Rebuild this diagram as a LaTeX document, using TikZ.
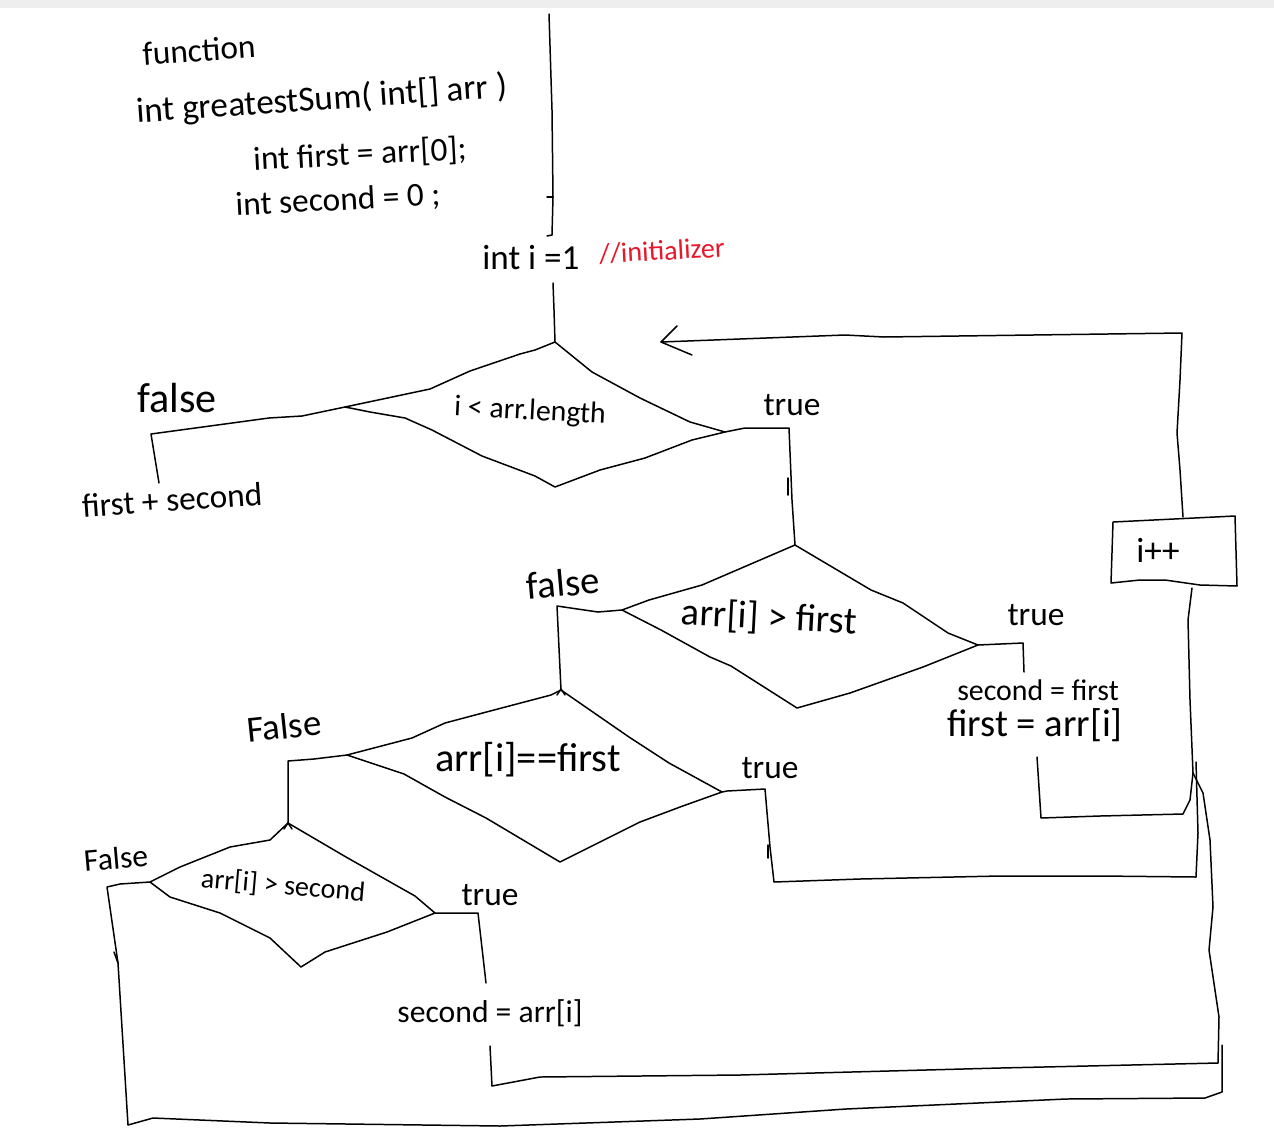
\documentclass[tikz,border=0pt]{standalone}
\usepackage{fontspec}
\newfontfamily\handfont{Carlito}
\definecolor{topbar}{RGB}{238,238,238}
\definecolor{note}{RGB}{232,24,44}
\begin{document}
\begin{tikzpicture}[x=0.02cm,y=-0.02cm,
  line width=0.85pt, line join=round, line cap=round,
  fs/.style={font={\handfont\fontsize{#1pt}{#1pt}\selectfont}, inner sep=0pt},
  pen/.style={draw=black, line width=0.85pt}]
\useasboundingbox (0,0) rectangle (1274,1136);
\fill[white] (0,0) rectangle (1274,1136);
\fill[topbar] (0,0) rectangle (1274,8);

% ---------- function header ----------
\node[fs=19, rotate=4] (fn) at (199,50) {function};
\node[fs=20, rotate=4] (sig) at (322,100) {int greatestSum( int[] arr )};
\node[fs=19, rotate=3] (v1) at (360,155) {int first = arr[0];};
\node[fs=19, rotate=3] (v2) at (338,201) {int second = 0 ;};

% ---------- entry line and initializer ----------
\coordinate (e0) at (549,14);
\coordinate (e1) at (552,235);
\draw[pen] (e0) -- (552,110) -- (553,197) -- (e1) -- (547,236);
\draw[pen] (547,197) -- (553,197);
\node[fs=20] (init) at (531,258) {int i =1};
\node[fs=16, text=note, rotate=3] (cmt) at (662,251) {//initializer};

% ---------- decision 1 ----------
\coordinate (d1t) at (555,342);
\coordinate (d1l) at (345,407);
\coordinate (d1r) at (725,432);
\coordinate (d1b) at (555,487);
\coordinate (c0) at (553,283);
\draw[pen] (c0) -- (554,310) -- (d1t);
\draw[pen] (d1t) -- (535,350) -- (520,354) -- (470,371) -- (430,389) -- (d1l)
  -- (370,412) -- (405,418) -- (432,430) -- (482,456) -- (535,476) -- (d1b)
  -- (600,470) -- (645,458) -- (692,440) -- (d1r)
  -- (690,422) -- (640,398) -- (592,372) -- cycle;
\node[fs=17, rotate=-3] (cond1) at (530,412) {i < arr.length};

% false: result
\node[fs=24] (fl1) at (177,398) {false};
\node[fs=19, rotate=4] (res) at (172,500) {first + second};
\coordinate (r0) at (159,483);
\draw[pen] (d1l) -- (302,416) -- (269,418) -- (151,434) -- (r0);

% true: to decision 2
\node[fs=19] (tr1) at (792,405) {true};
\coordinate (d2t) at (795,545);
\coordinate (d2l) at (622,610);
\coordinate (d2r) at (978,645);
\coordinate (d2b) at (797,708);
\draw[pen] (d1r) -- (745,428) -- (789,428) -- (792,500) -- (d2t);
\draw[pen] (788,478) -- (788,495);

% ---------- decision 2 ----------
\draw[pen] (d2t) -- (702,585) -- (649,600) -- (d2l)
  -- (661,630) -- (710,657) -- (731,666) -- (d2b)
  -- (850,693) -- (923,667) -- (d2r)
  -- (948,633) -- (903,603) -- (871,590) -- cycle;
\node[fs=22, rotate=-3] (cond2) at (769,618) {arr[i] > first};

% true: swap into first/second
\node[fs=19] (tr2) at (1036,615) {true};
\coordinate (a1) at (1024,672);
\draw[pen] (d2r) -- (1023,643) -- (a1);
\node[fs=17] (asg1) at (1038,690) {second = first};
\node[fs=22] (asg2) at (1035,725) {first = arr[i]};
\coordinate (a2) at (1037,757);
\coordinate (j1) at (1193,773);
\draw[pen] (a2) -- (1041,818) -- (1100,816) -- (1183,814) -- (1190,800) -- (j1);

% ---------- increment and loop back ----------
\node[fs=20] (inc) at (1158,550) {i++};
\draw[pen] (1113,522) -- (1235,516) -- (1237,586) -- (1200,585) -- (1165,580)
  -- (1140,580) -- (1111,583) -- cycle;
\coordinate (i0) at (1183,517);
\coordinate (i1) at (1192,588);
\coordinate (tip) at (661,342);
\draw[pen] (i0) -- (1180,470) -- (1177,433) -- (1180,380) -- (1182,333)
  -- (884,337) -- (845,335) -- (tip);
\draw[pen] (677,326) -- (tip) -- (692,355);
\draw[pen] (i1) -- (1188,620) -- (1190,700) -- (j1);

% ---------- decision 3 ----------
\node[fs=22, rotate=5] (fl2) at (563,583) {false};
\coordinate (d3t) at (561,690);
\coordinate (d3l) at (347,755);
\coordinate (d3r) at (722,792);
\coordinate (d3b) at (560,862);
\draw[pen] (d2l) -- (598,612) -- (557,606) -- (d3t);
\draw[pen] (557,695) -- (561,689) -- (565,695);
\draw[pen] (d3t) -- (551,695) -- (494,710) -- (445,723) -- (412,738) -- (d3l)
  -- (371,763) -- (404,774) -- (445,797) -- (486,818) -- (d3b)
  -- (640,822) -- (680,807) -- (d3r)
  -- (669,763) -- (629,737) -- cycle;
\node[fs=23] (cond3) at (528,760) {arr[i]==first};

% true: back to the increment
\node[fs=19] (tr3) at (770,768) {true};
\draw[pen] (d3r) -- (727,791) -- (765,789) -- (770,847) -- (774,882)
  -- (860,879) -- (1000,876) -- (1100,876) -- (1196,877) -- (1198,833) -- (1196,762);
\draw[pen] (768,845) -- (768,858);

% ---------- decision 4 ----------
\node[fs=21, rotate=6] (fl3) at (284,726) {False};
\coordinate (d4t) at (288,823);
\coordinate (d4l) at (150,882);
\coordinate (d4r) at (435,913);
\coordinate (d4b) at (301,967);
\draw[pen] (d3l) -- (314,759) -- (288,761) -- (d4t);
\draw[pen] (284,829) -- (288,823) -- (292,829);
\draw[pen] (d4t) -- (270,840) -- (230,847) -- (180,867) -- (d4l)
  -- (170,897) -- (220,913) -- (270,938) -- (d4b)
  -- (325,952) -- (387,932) -- (d4r)
  -- (415,896) -- (346,857) -- cycle;
\node[fs=16, rotate=-5] (cond4) at (283,886) {arr[i] > second};

% true: second = arr[i]
\node[fs=19] (tr4) at (490,895) {true};
\coordinate (a3) at (486,983);
\draw[pen] (d4r) -- (478,913) -- (a3);
\node[fs=18] (asg3) at (490,1013) {second = arr[i]};
\coordinate (a4) at (490,1046);
\draw[pen] (a4) -- (492,1086) -- (540,1077) -- (740,1075) -- (1000,1068)
  -- (1218,1063) -- (1219,1017) -- (1209,950) -- (1213,907) -- (1210,840)
  -- (1203,793) -- (j1);

% false: straight back
\node[fs=18, rotate=5] (fl4) at (116,858) {False};
\draw[pen] (d4l) -- (120,884) -- (107,887) -- (118,963) -- (128,1125)
  -- (153,1118) -- (270,1123) -- (500,1126) -- (700,1119) -- (846,1109)
  -- (1066,1099) -- (1205,1098) -- (1222,1092) -- (1222,1045);
\draw[pen] (114,952) -- (118,963);
\end{tikzpicture}
\end{document}
